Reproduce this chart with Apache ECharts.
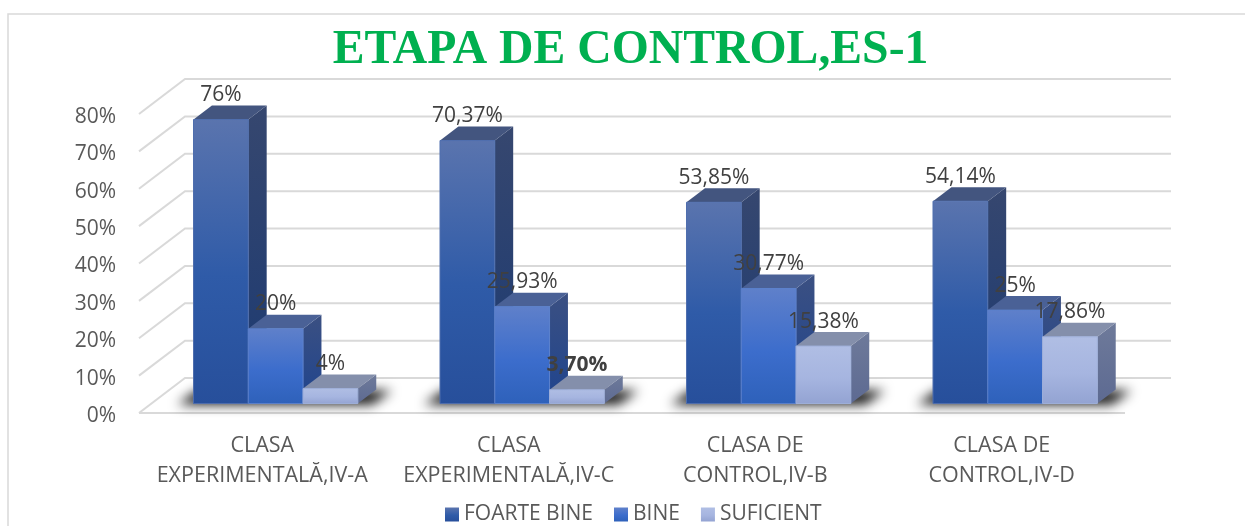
<!DOCTYPE html>
<html>
<head>
<meta charset="utf-8">
<style>
  html, body { margin: 0; padding: 0; background: #fff; }
  #main { width: 1245px; height: 526px; }
</style>
<script src="https://cdn.jsdelivr.net/npm/echarts@6/dist/echarts.min.js"></script>
</head>
<body>
<div id="main"></div>
<script>
const categories = ['CLASA\nEXPERIMENTALĂ,IV-A', 'CLASA\nEXPERIMENTALĂ,IV-C', 'CLASA DE\nCONTROL,IV-B', 'CLASA DE\nCONTROL,IV-D'];
const foarteBine = [76, 70.37, 53.85, 54.14];
const bine = [20, 25.93, 30.77, 25];
const suficient = [4, 3.70, 15.38, 17.86];
const yTicks = [0, 10, 20, 30, 40, 50, 60, 70, 80];

const fontName = '"Open Sans"';
const textGrey = '#595959';
const lineGrey = '#d9d9d9';

// the chart is faked 3d: depth 1 is the back wall, 0 the front edge of the floor
const DEPTH_X = 46;
const DEPTH_Y = -35;
const BAR_FRONT = 0.27;
const BAR_BACK = 0.67;
const BAR_WIDTH = 0.2222; // of one category band

function vGrad(a, b, c) {
  const stops = c
    ? [{ offset: 0, color: a }, { offset: 0.55, color: b }, { offset: 1, color: c }]
    : [{ offset: 0, color: a }, { offset: 1, color: b }];
  return new echarts.graphic.LinearGradient(0, 0, 0, 1, stops);
}

const looks = [
  { front: vGrad('#5a74ae', '#2f5ba8', '#274f9b'), top: '#43557f', side: vGrad('#36476f', '#1c3a72'), stroke: '#4f6eae' },
  { front: vGrad('#5f80ca', '#3c6dcc', '#2e61ba'), top: '#4a6196', side: vGrad('#3b5082', '#1f448e'), stroke: '#5b80cc' },
  { front: vGrad('#b0bee4', '#a6b5e0', '#93a3d2'), top: '#848fab', side: vGrad('#6e7a9a', '#5d6a92'), stroke: '#9fb0da' }
];

function pct(v) {
  return (Number.isInteger(v) ? String(v) : v.toFixed(2).replace('.', ',')) + '%';
}

function poly(points, fill, stroke) {
  return {
    type: 'polygon',
    shape: { points: points },
    style: { fill: fill, stroke: stroke || fill, lineWidth: stroke ? 1 : 0 }
  };
}

function barSeries(name, values, idx) {
  const look = looks[idx];
  return {
    name: name,
    type: 'custom',
    coordinateSystem: 'cartesian2d',
    z: 5 + idx,
    itemStyle: { color: look.front },
    data: values.map((v, i) => [i, v]),
    renderItem: function (params, api) {
      const band = api.size([1, 0])[0];
      const w = band * BAR_WIDTH;
      const val = api.value(1);
      const base = api.coord([api.value(0), 0]);
      const head = api.coord([api.value(0), val]);
      const x0 = base[0] - w * 1.5 + w * idx + DEPTH_X * BAR_FRONT + 1;
      const x1 = x0 + w;
      const yb = base[1] + DEPTH_Y * BAR_FRONT;
      const yt = head[1] + DEPTH_Y * BAR_FRONT;
      const dx = DEPTH_X * (BAR_BACK - BAR_FRONT);
      const dy = DEPTH_Y * (BAR_BACK - BAR_FRONT);
      const bold = idx === 2 && api.value(0) === 1;
      return {
        type: 'group',
        children: [
          poly([[x1, yb], [x1 + dx, yb + dy], [x1 + dx, yt + dy], [x1, yt]], look.side),
          poly([[x0, yt], [x1, yt], [x1 + dx, yt + dy], [x0 + dx, yt + dy]], look.top),
          poly([[x0, yb], [x1, yb], [x1, yt], [x0, yt]], look.front, look.stroke),
          {
            type: 'text',
            z2: 50,
            style: {
              x: (x0 + x1) / 2,
              y: yt + dy - 10.5,
              text: pct(val),
              align: 'center',
              verticalAlign: 'middle',
              fill: '#404040',
              fontFamily: fontName,
              fontSize: 21,
              fontWeight: bold ? 'bold' : 'normal'
            }
          }
        ]
      };
    }
  };
}

// side wall lines + back wall lines + floor edge
const wallSeries = {
  type: 'custom',
  silent: true,
  z: 1,
  data: yTicks.map(t => [0, t]),
  renderItem: function (params, api) {
    const x0 = params.coordSys.x;
    const x1 = x0 + params.coordSys.width;
    const y = api.coord([0, api.value(1)])[1];
    const pts = [[x0, y], [x0 + DEPTH_X, y + DEPTH_Y], [x1 + DEPTH_X, y + DEPTH_Y]];
    const children = [{
      type: 'polyline',
      shape: { points: pts },
      style: { stroke: lineGrey, lineWidth: 2, fill: null }
    }];
    if (api.value(1) === 0) {
      children.push({
        type: 'line',
        shape: { x1: x0, y1: y, x2: x1, y2: y },
        style: { stroke: lineGrey, lineWidth: 2 }
      });
    }
    return { type: 'group', children: children };
  }
};

// dark blurred patch on the floor under each cluster, only its shadow lands on the canvas
const SHADOW_SHIFT = 3000;
const shadowSeries = {
  type: 'custom',
  silent: true,
  z: 2,
  data: categories.map((c, i) => [i, 0]),
  renderItem: function (params, api) {
    const band = api.size([1, 0])[0];
    const base = api.coord([api.value(0), 0]);
    const cx = base[0] + DEPTH_X * BAR_FRONT + 1 - SHADOW_SHIFT;
    const yb = base[1] + DEPTH_Y * BAR_FRONT;
    const half = band * BAR_WIDTH * 1.5;
    return {
      type: 'polygon',
      shape: { points: [[cx - half - 16, yb + 1], [cx - half + 4, yb - 13], [cx + half + 34, yb - 13], [cx + half + 14, yb + 1]] },
      style: { fill: '#000', shadowBlur: 12, shadowColor: '#111', shadowOffsetX: SHADOW_SHIFT }
    };
  }
};

const myChart = echarts.init(document.getElementById('main'));
myChart.setOption({
  animation: false,
  backgroundColor: '#fff',
  graphic: [{
    type: 'rect',
    silent: true,
    shape: { x: 8, y: 14, width: 1400, height: 700 },
    style: { fill: null, stroke: '#d9d9d9', lineWidth: 1.5 }
  }],
  title: {
    text: 'ETAPA DE CONTROL,ES-1',
    left: 625.5,
    top: 22,
    textAlign: 'center',
    textStyle: { fontFamily: '"Liberation Serif"', fontWeight: 'bold', fontSize: 47.7, color: '#00b050' }
  },
  legend: {
    data: ['FOARTE BINE', 'BINE', 'SUFICIENT'],
    left: 440,
    top: 499,
    icon: 'rect',
    itemWidth: 14,
    itemHeight: 14,
    itemGap: 21,
    textStyle: { fontFamily: fontName, fontSize: 21, color: textGrey }
  },
  grid: { left: 139, top: 114, width: 986, height: 299 },
  xAxis: {
    type: 'category',
    data: categories,
    axisLine: { show: false },
    axisTick: { show: false },
    axisLabel: { interval: 0, fontFamily: fontName, fontSize: 21.5, color: textGrey, lineHeight: 30, margin: 18 }
  },
  yAxis: {
    type: 'value',
    min: 0,
    max: 80,
    interval: 10,
    axisLine: { show: false },
    axisTick: { show: false },
    splitLine: { show: false },
    // top + small lineHeight pushes the labels down a bit, padding did nothing here
    axisLabel: { formatter: '{value}%', fontFamily: fontName, fontSize: 21, color: textGrey, margin: 23, verticalAlign: 'top', lineHeight: 6 }
  },
  series: [
    wallSeries,
    shadowSeries,
    barSeries('FOARTE BINE', foarteBine, 0),
    barSeries('BINE', bine, 1),
    barSeries('SUFICIENT', suficient, 2)
  ]
});
</script>
</body>
</html>
